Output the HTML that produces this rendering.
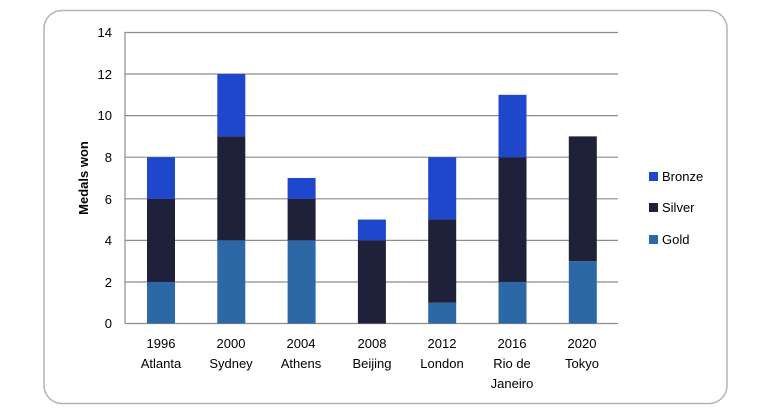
<!DOCTYPE html>
<html><head><meta charset="utf-8"><style>
body{margin:0;width:778px;height:414px;background:#fff;overflow:hidden}
svg{display:block;font-family:"Liberation Sans",sans-serif}
</style></head><body>
<svg width="778" height="414" viewBox="0 0 778 414">
<rect x="44" y="10.5" width="683" height="393" rx="18" fill="#fff" stroke="#b3b3b3" stroke-width="1.5"/>
<g stroke="#8c8c8c" stroke-width="1.2">
<line x1="125" y1="32.5" x2="618" y2="32.5"/>
<line x1="125" y1="74" x2="618" y2="74"/>
<line x1="125" y1="115.6" x2="618" y2="115.6"/>
<line x1="125" y1="157.2" x2="618" y2="157.2"/>
<line x1="125" y1="198.8" x2="618" y2="198.8"/>
<line x1="125" y1="240.4" x2="618" y2="240.4"/>
<line x1="125" y1="282" x2="618" y2="282"/>
<line x1="125" y1="323.5" x2="618" y2="323.5"/>
<line x1="125" y1="32" x2="125" y2="323.5"/>
</g>
<g font-size="13" fill="#000" text-anchor="end">
<text x="112" y="37">14</text><text x="112" y="79">12</text><text x="112" y="120">10</text>
<text x="112" y="162">8</text><text x="112" y="204">6</text><text x="112" y="245">4</text>
<text x="112" y="287">2</text><text x="112" y="328">0</text>
</g>
<text transform="translate(88,178) rotate(-90)" text-anchor="middle" font-size="13" font-weight="bold">Medals won</text>
<g>
<rect x="147" y="281.92" width="28" height="41.58" fill="#2d68a6"/>
<rect x="147" y="198.76" width="28" height="83.16" fill="#1e2139"/>
<rect x="147" y="157.18" width="28" height="41.58" fill="#1f47cc"/>
<rect x="217.3" y="240.34" width="28" height="83.16" fill="#2d68a6"/>
<rect x="217.3" y="136.39" width="28" height="103.95" fill="#1e2139"/>
<rect x="217.3" y="74.02" width="28" height="62.37" fill="#1f47cc"/>
<rect x="287.6" y="240.34" width="28" height="83.16" fill="#2d68a6"/>
<rect x="287.6" y="198.76" width="28" height="41.58" fill="#1e2139"/>
<rect x="287.6" y="177.97" width="28" height="20.79" fill="#1f47cc"/>
<rect x="357.9" y="240.34" width="28" height="83.16" fill="#1e2139"/>
<rect x="357.9" y="219.55" width="28" height="20.79" fill="#1f47cc"/>
<rect x="428.2" y="302.71" width="28" height="20.79" fill="#2d68a6"/>
<rect x="428.2" y="219.55" width="28" height="83.16" fill="#1e2139"/>
<rect x="428.2" y="157.18" width="28" height="62.37" fill="#1f47cc"/>
<rect x="498.5" y="281.92" width="28" height="41.58" fill="#2d68a6"/>
<rect x="498.5" y="157.18" width="28" height="124.74" fill="#1e2139"/>
<rect x="498.5" y="94.81" width="28" height="62.37" fill="#1f47cc"/>
<rect x="568.8" y="261.13" width="28" height="62.37" fill="#2d68a6"/>
<rect x="568.8" y="136.39" width="28" height="124.74" fill="#1e2139"/>
</g>
<g font-size="13" text-anchor="middle">
<text x="161" y="348">1996</text><text x="161" y="368">Atlanta</text>
<text x="231" y="348">2000</text><text x="231" y="368">Sydney</text>
<text x="301" y="348">2004</text><text x="301" y="368">Athens</text>
<text x="372" y="348">2008</text><text x="372" y="368">Beijing</text>
<text x="442" y="348">2012</text><text x="442" y="368">London</text>
<text x="512" y="348">2016</text><text x="512" y="368">Rio de</text><text x="512" y="388">Janeiro</text>
<text x="582" y="348">2020</text><text x="582" y="368">Tokyo</text>
</g>
<rect x="649" y="172" width="9" height="9" fill="#1f47cc"/>
<rect x="649" y="203" width="9" height="9" fill="#1e2139"/>
<rect x="649" y="235" width="9" height="9" fill="#2d68a6"/>
<g font-size="13"><text x="662" y="181">Bronze</text><text x="662" y="212">Silver</text><text x="662" y="244">Gold</text></g>
</svg>
</body></html>
